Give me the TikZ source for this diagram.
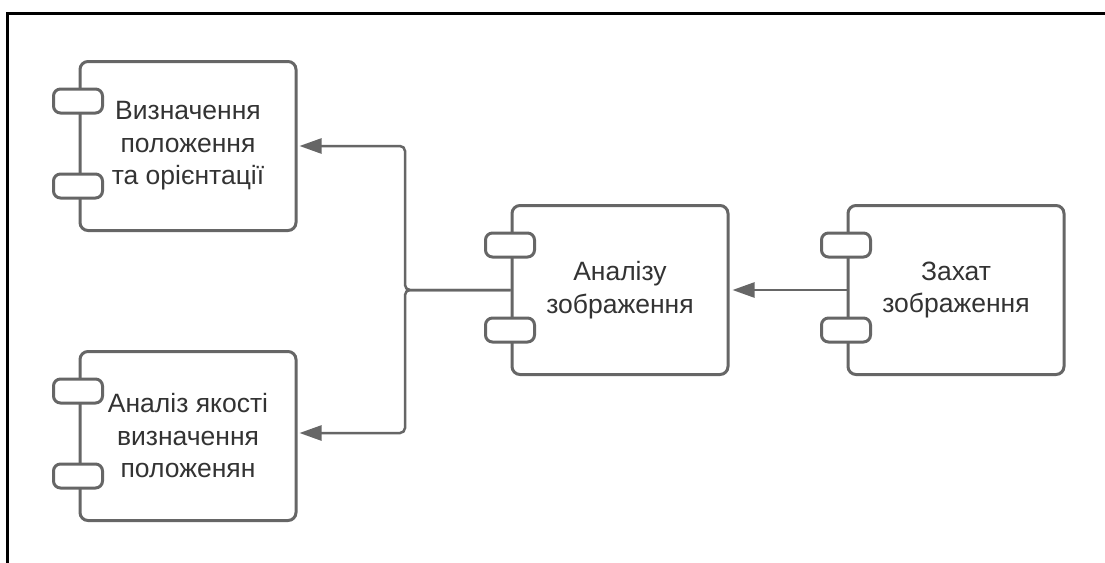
\documentclass[tikz,border=0pt]{standalone}
\usepackage{fontspec}
\setmainfont{Liberation Sans}
\usetikzlibrary{arrows.meta,calc}
\definecolor{linegray}{HTML}{666666}
\definecolor{textgray}{HTML}{333333}
\tikzset{
  comp/.style={draw=linegray, line width=3pt, rounded corners=8pt, fill=white,
    minimum width=216pt, minimum height=169pt, align=center, text=textgray,
    font=\fontsize{26.5}{32.5}\selectfont, inner sep=0pt},
  port/.style={draw=linegray, line width=3pt, rounded corners=7pt, fill=white},
  conn/.style={draw=linegray, line width=2.5pt, rounded corners=5pt},
  tip/.style={-{Triangle[length=22pt,width=15pt]}},
  frame/.style={draw=black, line width=3pt, line join=miter}
}
\begin{document}
\begin{tikzpicture}[x=1pt,y=-1pt]
\useasboundingbox[fill=white] (0,0) rectangle (1105,562);
\draw[frame] (7,570) -- (7,13) -- (1110,13);

\node[comp] (b1) at (188,146) {Визначення\\положення\\та орієнтації};
\node[comp] (b2) at (188,436) {Аналіз якості\\визначення\\положенян};
\node[comp] (b3) at (620,290) {Аналізу\\зображення};
\node[comp] (b4) at (956,290) {Захат\\зображення};

\foreach \n in {b1,b2,b3,b4}{
  \foreach \dy in {41,126}{
    \draw[port] ($(\n.north west)+(-25,\dy-12)$) rectangle ($(\n.north west)+(24,\dy+12)$);
  }
}

\coordinate (j) at (405,290);
\draw[conn,tip] (b3.west) -- (j) |- ([xshift=2pt]b1.east);
\draw[conn,tip] (b3.west) -- (j) |- ([xshift=2pt,yshift=3pt]b2.east);
\draw[conn,tip] (b4.west) -- ([xshift=3pt]b3.east);
\end{tikzpicture}
\end{document}
